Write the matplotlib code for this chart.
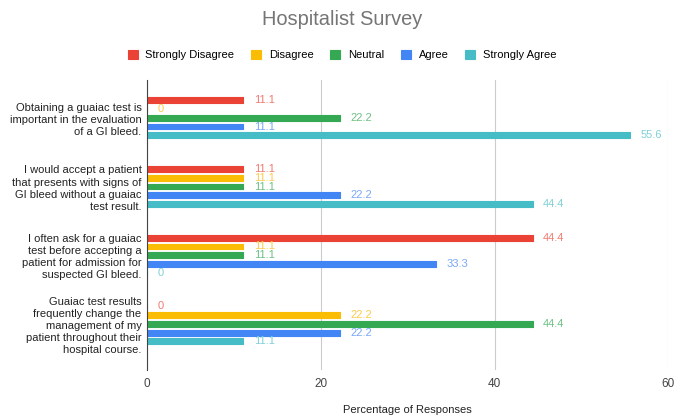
import numpy as np
import matplotlib.pyplot as plt

plt.rcParams['font.family'] = ['Liberation Sans', 'DejaVu Sans']

questions = [
    "Obtaining a guaiac test is\nimportant in the evaluation\nof a GI bleed.",
    "I would accept a patient\nthat presents with signs of\nGI bleed without a guaiac\ntest result.",
    "I often ask for a guaiac\ntest before accepting a\npatient for admission for\nsuspected GI bleed.",
    "Guaiac test results\nfrequently change the\nmanagement of my\npatient throughout their\nhospital course.",
]
series = ["Strongly Disagree", "Disagree", "Neutral", "Agree", "Strongly Agree"]
strongly_disagree = [11.1, 11.1, 44.4, 0]
disagree = [0, 11.1, 11.1, 22.2]
neutral = [22.2, 11.1, 11.1, 44.4]
agree = [11.1, 22.2, 33.3, 22.2]
strongly_agree = [55.6, 44.4, 0, 11.1]
values = [strongly_disagree, disagree, neutral, agree, strongly_agree]
colors = ["#EA4335", "#FBBC04", "#34A853", "#4285F4", "#46BDC6"]
label_colors = ["#F07A70", "#FCCB4A", "#6CC084", "#78A8F7", "#7DD0D6"]
xticks = [0, 20, 40, 60]

fig = plt.figure(figsize=(6.84, 4.17), dpi=100)
ax = fig.add_axes([0.215, 0.113, 0.762, 0.695])

pitch = 0.127
y = np.arange(len(questions))
for i, (name, vals) in enumerate(zip(series, values)):
    pos = y + (i - 2) * pitch
    ax.barh(pos, vals, height=0.085, color=colors[i], label=name, zorder=3,
            edgecolor=colors[i], linewidth=0.8, joinstyle="round")
    for p, v in zip(pos, vals):
        ax.annotate(f"{v:g}", (v, p), xytext=(7.5, 0), textcoords="offset points",
                    va="center", ha="left", fontsize=8, color=label_colors[i])

ax.set_xlim(0, 60)
ax.set_ylim(3.67, -0.55)
ax.set_xticks(xticks)
ax.set_yticks(y)
ax.set_yticklabels(questions, fontsize=8, color="#222222", linespacing=1.26)
ax.tick_params(axis="both", length=0)
ax.tick_params(axis="x", labelsize=8.5, colors="#444444", pad=6)
ax.tick_params(axis="y", pad=4)
ax.grid(axis="x", color="#cccccc", linewidth=0.8, zorder=0)
for s in ["top", "right", "bottom"]:
    ax.spines[s].set_visible(False)
ax.spines["left"].set_color("#444444")
ax.spines["left"].set_zorder(4)
ax.set_xlabel("Percentage of Responses", fontsize=8, color="#222222", labelpad=11)

fig.suptitle("Hospitalist Survey", y=0.975, fontsize=14.4, color="#757575")
fig.legend(loc="upper center", bbox_to_anchor=(0.5, 0.905), ncol=5, frameon=False,
           fontsize=8, handlelength=0.9, handleheight=0.9, columnspacing=1.5,
           handletextpad=0.7)

fig.savefig("out.png", dpi=100)
